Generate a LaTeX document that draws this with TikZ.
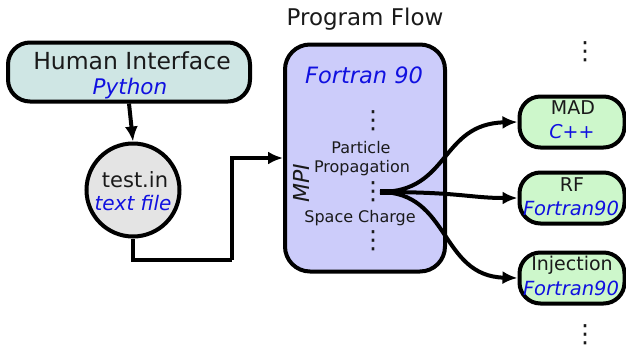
\documentclass[tikz,border=0pt]{standalone}
\usepackage{fontspec}
\setmainfont{DejaVu Sans}
\usetikzlibrary{arrows.meta}
\definecolor{hibg}{HTML}{CFE6E4}
\definecolor{filebg}{HTML}{E4E4E4}
\definecolor{fortbg}{HTML}{CCCCFA}
\definecolor{modbg}{HTML}{CDF7CB}
\definecolor{langblue}{HTML}{1010E0}
\definecolor{txt}{HTML}{1A1A1A}
\tikzset{
  box/.style={draw=black, line width=4pt, rounded corners=#1, inner sep=0pt},
  lang/.style={text=langblue},
  conn/.style={line width=4pt, -{Latex[length=15pt,width=13pt]}},
  dotsym/.style={font=\fontsize{25}{25}\selectfont, text=txt, inner sep=0pt},
}
\begin{document}
\begin{tikzpicture}[x=1pt,y=-1pt]
\useasboundingbox (0,0) rectangle (626,351);
% title
\node[font=\fontsize{23}{26}\selectfont, text=txt] (title) at (365,19) {Program Flow};
% human interface
\node[box=22pt, fill=hibg, minimum width=242pt, minimum height=59pt] (hi) at (129,72) {};
\node[font=\fontsize{23.5}{26}\selectfont, text=txt] (hit) at (132,61) {Human Interface};
\node[font=\fontsize{21.5}{25}\selectfont\itshape, lang] (hil) at (130,89) {Python};
% test.in
\node[draw=black, line width=4pt, circle, fill=filebg, minimum size=93pt, inner sep=0pt] (file) at (133,190) {};
\node[font=\fontsize{21}{24}\selectfont, text=txt] (filet) at (135,180) {test.in};
\node[font=\fontsize{20}{23}\selectfont\itshape, lang] (filel) at (133,203) {text file};
% fortran box
\node[box=25pt, fill=fortbg, minimum width=160pt, minimum height=227pt] (fort) at (365,158) {};
\node[font=\fontsize{22.5}{26}\selectfont\itshape, lang] (fortl) at (364,75) {Fortran 90};
\node[dotsym] (d1) at (373,121) {⋮};
\node[font=\fontsize{16}{18}\selectfont, text=txt] (pp1) at (361,148) {Particle};
\node[font=\fontsize{16}{18}\selectfont, text=txt] (pp2) at (362,168) {Propagation};
\node[dotsym] (d2) at (373,192) {⋮};
\node[font=\fontsize{16}{18}\selectfont, text=txt] (sc) at (360,218) {Space Charge};
\node[dotsym] (d3) at (373,241) {⋮};
\node[font=\fontsize{22}{24}\selectfont\itshape, text=txt, rotate=90] (mpi) at (301,183) {MPI};
% modules
\node[box=21pt, fill=modbg, minimum width=105pt, minimum height=51pt] (mad) at (572,122) {};
\node[font=\fontsize{19}{22}\selectfont, text=txt] (madt) at (573,108) {MAD};
\node[font=\fontsize{19}{22}\selectfont\itshape, lang] (madl) at (572,132) {C++};
\node[box=21pt, fill=modbg, minimum width=105pt, minimum height=51pt] (rf) at (572,198) {};
\node[font=\fontsize{19}{22}\selectfont, text=txt] (rft) at (572,185) {RF};
\node[font=\fontsize{19.5}{22}\selectfont\itshape, lang] (rfl) at (571,208) {Fortran90};
\node[box=21pt, fill=modbg, minimum width=105pt, minimum height=51pt] (inj) at (572,278) {};
\node[font=\fontsize{19}{22}\selectfont, text=txt] (injt) at (572,265) {Injection};
\node[font=\fontsize{19.5}{22}\selectfont\itshape, lang] (injl) at (571,288) {Fortran90};
\node[dotsym] (dtop) at (585,52) {⋮};
\node[dotsym] (dbot) at (585,335) {⋮};
% connectors
\draw[conn] (hi.south) -- (file.north);
\draw[line width=4pt] (file.south) |- (232,260) coordinate (c1);
\draw[conn] (c1) |- (fort.west);
\coordinate (fork) at (380,192);
\draw[line width=5.5pt] (fork) -- (405,192);
\draw[conn] (fork) .. controls (450,192) and (440,124) .. (mad.west);
\draw[conn] (fork) .. controls (460,192) and (470,198) .. (rf.west);
\draw[conn] (fork) .. controls (450,192) and (440,276) .. (inj.west);
\end{tikzpicture}
\end{document}
